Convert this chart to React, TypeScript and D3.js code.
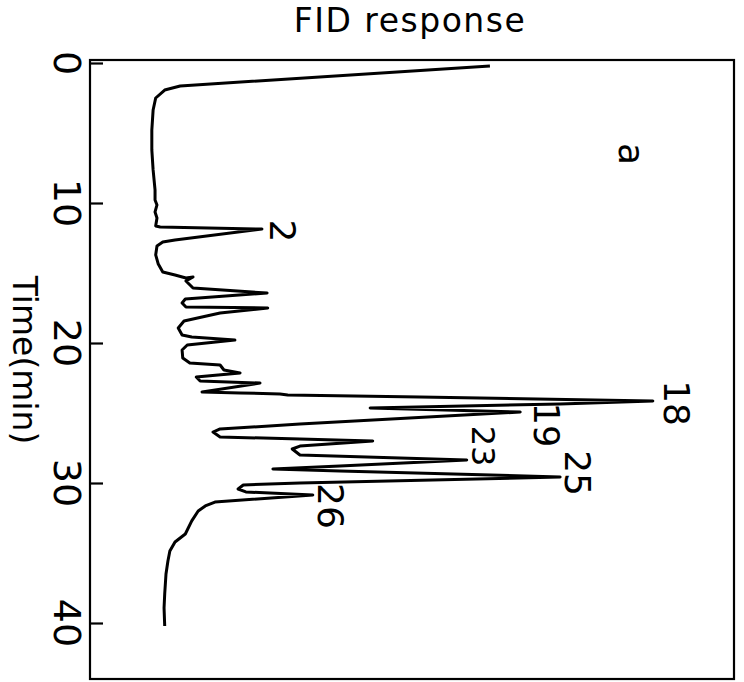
import { useEffect, useRef } from "react";
import * as d3 from "d3";

// retention time (min) and FID response (arbitrary units, 0-100 across the frame)
const times = [
  0.21, 1.64, 1.93, 2.5, 3.36, 4.79, 6.21, 7.64, 9.07, 9.79, 10.14, 10.64, 11.07, 11.64, 11.71, 11.86,
  12.64, 12.79, 13.07, 13.71, 14.36, 14.93, 15.14, 15.36, 15.29, 15.57, 16.07, 16.43, 16.86, 17.14,
  17.43, 17.5, 17.86, 18.43, 18.93, 19.43, 19.57, 19.79, 20.14, 20.5, 21.07, 21.43, 21.57, 21.93,
  22.14, 22.43, 22.71, 22.86, 23.5, 23.57, 23.64, 23.71, 23.86, 24.14, 24.36, 24.64, 24.93, 25.79,
  26.14, 26.36, 26.71, 26.86, 27.0, 27.36, 27.57, 28.0, 28.36, 28.79, 29.0, 29.14, 29.57, 30.0,
  30.14, 30.43, 30.64, 30.86, 31.36, 31.64, 32.0, 32.71, 33.64, 34.21, 34.86, 35.57, 36.5, 37.93,
  38.93, 40.21,
];
const response = [
  62.1, 14.0, 11.6, 10.2, 9.8, 9.6, 9.6, 9.8, 10.1, 10.1, 10.4, 10.1, 10.4, 10.2, 10.9, 26.7,
  13.2, 11.3, 10.4, 10.2, 10.6, 11.3, 13.2, 14.9, 16.0, 14.9, 16.0, 27.5, 14.8, 14.3,
  14.9, 27.6, 20.2, 14.6, 13.7, 14.3, 15.8, 22.5, 15.1, 14.3, 14.4, 15.5, 20.2, 20.8,
  23.3, 16.5, 17.1, 26.4, 17.4, 23.3, 29.5, 30.7, 51.2, 87.4, 73.0, 43.5, 66.8, 32.6,
  20.2, 19.1, 20.2, 32.6, 43.9, 32.6, 31.4, 32.6, 58.5, 38.8, 28.4, 38.8, 73.0, 32.6,
  23.8, 23.0, 24.2, 34.6, 19.4, 17.9, 16.8, 15.8, 14.8, 13.2, 12.4, 12.1, 11.8, 11.6,
  11.5, 11.6,
];

const timeTicks = [0, 10, 20, 30, 40];

// peak numbers and where their labels sit (time, response)
const peakLabels = ["2", "18", "19", "23", "25", "26"];
const peakLabelTimes = [12.0, 24.29, 25.86, 27.36, 29.29, 31.64];
const peakLabelResp = [27.95, 89.1, 68.9, 59.3, 73.8, 35.4];
const peakLabelSizes = [36, 36, 35, 32, 36, 36];

const panelLabel = "a";
const panelLabelTime = 6.5;
const panelLabelResp = 82.1;

const W = 744;
const H = 682;
const frame = { left: 90, right: 734, top: 60, bottom: 679 };
const FONT = "'DejaVu Sans', sans-serif";

const App = () => {
  const ref = useRef<SVGSVGElement>(null);

  useEffect(() => {
    const svg = d3.select(ref.current);
    svg.selectAll("*").remove();

    const x = d3.scaleLinear().domain([0, 100]).range([frame.left, frame.right]);
    const y = d3.scaleLinear().domain([0, 44]).range([63, frame.bottom]);

    const pts = times.map((t, i) => [t, response[i]] as [number, number]);

    // frame
    svg
      .append("rect")
      .attr("x", frame.left)
      .attr("y", frame.top)
      .attr("width", frame.right - frame.left)
      .attr("height", frame.bottom - frame.top)
      .attr("fill", "none")
      .attr("stroke", "#000")
      .attr("stroke-width", 2.2);

    // time axis with inward ticks
    const axis = svg
      .append("g")
      .attr("transform", `translate(${frame.left},0)`)
      .call(d3.axisLeft(y).tickValues(timeTicks).tickSize(-13).tickFormat(() => ""));
    axis.select(".domain").remove();
    axis.selectAll(".tick line").attr("stroke", "#000").attr("stroke-width", 2.2);

    svg
      .append("g")
      .selectAll("text")
      .data(timeTicks)
      .enter()
      .append("text")
      .attr("transform", (d) => `translate(54,${y(d)}) rotate(90)`)
      .attr("text-anchor", "middle")
      .attr("font-family", FONT)
      .attr("font-size", 38)
      .attr("fill", "#000")
      .text((d) => d);

    svg
      .append("text")
      .attr("transform", `translate(13,360) rotate(90)`)
      .attr("text-anchor", "middle")
      .attr("font-family", FONT)
      .attr("font-size", 33)
      .attr("fill", "#000")
      .text("Time(min)");

    svg
      .append("text")
      .attr("x", 410)
      .attr("y", 32)
      .attr("text-anchor", "middle")
      .attr("font-family", FONT)
      .attr("font-size", 33)
      .attr("letter-spacing", 1.5)
      .attr("fill", "#000")
      .text("FID response");

    // chromatogram trace
    const line = d3
      .line<[number, number]>()
      .x((d) => x(d[1]))
      .y((d) => y(d[0]))
      .curve(d3.curveLinear);

    svg
      .append("path")
      .datum(pts)
      .attr("d", line)
      .attr("fill", "none")
      .attr("stroke", "#000")
      .attr("stroke-width", 3)
      .attr("stroke-linejoin", "round");

    // peak numbers
    svg
      .append("g")
      .selectAll("text")
      .data(peakLabels)
      .enter()
      .append("text")
      .attr("transform", (_, i) => `translate(${x(peakLabelResp[i])},${y(peakLabelTimes[i])}) rotate(90)`)
      .attr("text-anchor", "middle")
      .attr("font-family", FONT)
      .attr("font-size", (_, i) => peakLabelSizes[i])
      .attr("fill", "#000")
      .text((d) => d);

    svg
      .append("text")
      .attr("transform", `translate(${x(panelLabelResp)},${y(panelLabelTime)}) rotate(90)`)
      .attr("text-anchor", "middle")
      .attr("font-family", FONT)
      .attr("font-size", 36)
      .attr("fill", "#000")
      .text(panelLabel);
  }, []);

  return (
    <svg
      ref={ref}
      width={W}
      height={H}
      style={{ position: "absolute", left: 0, top: 0, background: "#fff" }}
    />
  );
};

export default App;
